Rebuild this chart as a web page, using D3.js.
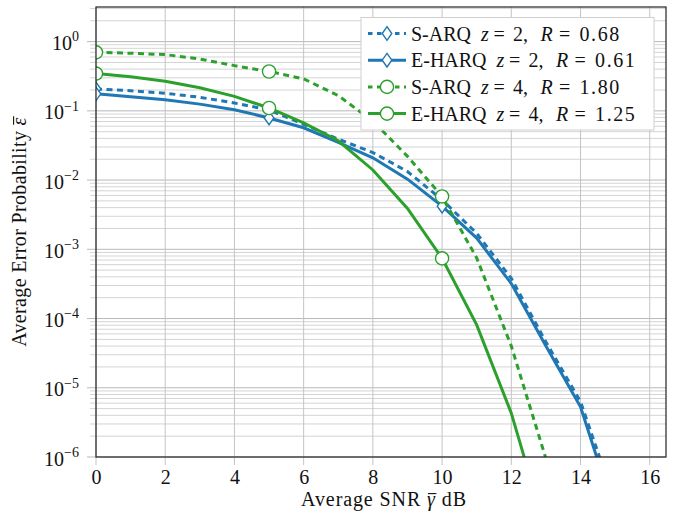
<!DOCTYPE html>
<html>
<head>
<meta charset="utf-8">
<script src="https://cdn.jsdelivr.net/npm/d3@7"></script>
<style>
  html, body { margin: 0; padding: 0; background: #fff; }
  svg { display: block; font-family: "Liberation Serif", "Times New Roman", serif; }
</style>
</head>
<body>
<svg id="chart" width="675" height="514"></svg>
<script>
// ---- data ----
const snr = [0, 1, 2, 3, 4, 5, 6, 7, 8, 9, 10, 11, 12, 13, 14, 15];
const sarqZ2  = [0.207, 0.195, 0.180, 0.157, 0.130, 0.103, 0.064, 0.039, 0.025, 0.0133, 0.0052, 0.0017, 3.8e-4, 4.6e-5, 6.3e-6, 2.2e-7];
const eharqZ2 = [0.176, 0.160, 0.145, 0.125, 0.104, 0.079, 0.057, 0.035, 0.021, 0.0103, 0.0042, 0.00145, 3.2e-4, 4.0e-5, 5.3e-6, 1.5e-7];
const sarqZ4  = [0.70, 0.68, 0.65, 0.56, 0.45, 0.37, 0.29, 0.166, 0.071, 0.022, 0.0058, 7.5e-4, 4.0e-5, 9.5e-7, 2.5e-8];
const eharqZ4 = [0.345, 0.31, 0.267, 0.215, 0.162, 0.110, 0.067, 0.037, 0.014, 0.0039, 7.4e-4, 8.1e-5, 4.3e-6, 8.5e-8];
const markerSnr = [0, 5, 10];
const xTicks = [0, 2, 4, 6, 8, 10, 12, 14, 16];
const yTickExps = [0, -1, -2, -3, -4, -5, -6];
const seriesNames = ["S-ARQ", "E-HARQ", "S-ARQ", "E-HARQ"];
const seriesZ = ["2", "2", "4", "4"];
const seriesR = ["0.68", "0.61", "1.80", "1.25"];
const xLabel = "Average SNR ";
const yLabel = "Average Error Probability ";

// ---- styling ----
const blue = "#1f77b4", green = "#2ca02c";
const series = [
  { vals: sarqZ2,  color: blue,  dashed: true,  marker: "diamond" },
  { vals: eharqZ2, color: blue,  dashed: false, marker: "diamond" },
  { vals: sarqZ4,  color: green, dashed: true,  marker: "circle" },
  { vals: eharqZ4, color: green, dashed: false, marker: "circle" }
];

const svg = d3.select("#chart");
const L = 96, R = 666, T = 7, B = 457;
const x = d3.scaleLinear().domain([0, 16.47]).range([L, R]);
const y = d3.scaleLog().domain([1e-6, Math.pow(10, 0.5)]).range([B, T]);
const FS = 20;

// grid
const grid = svg.append("g");
const minorVals = [];
for (let e = -6; e <= 0; e++) for (let k = 2; k <= 9; k++) { const v = k * Math.pow(10, e); if (v <= y.domain()[1]) minorVals.push(v); }
grid.selectAll("line.minor").data(minorVals).join("line")
  .attr("x1", L - 6).attr("x2", R).attr("y1", d => y(d)).attr("y2", d => y(d))
  .attr("stroke", "#d4d4d4").attr("stroke-width", 1);
grid.selectAll("line.major").data(yTickExps).join("line")
  .attr("x1", L - 9).attr("x2", R).attr("y1", d => y(Math.pow(10, d))).attr("y2", d => y(Math.pow(10, d)))
  .attr("stroke", "#b8b8b8").attr("stroke-width", 1);
grid.selectAll("line.vx").data(xTicks).join("line")
  .attr("x1", d => x(d)).attr("x2", d => x(d)).attr("y1", T).attr("y2", B + 8)
  .attr("stroke", "#c4c4c4").attr("stroke-width", 1);

// tick labels via d3 axes
const xAxis = d3.axisBottom(x).tickValues(xTicks).tickSize(0).tickPadding(0).tickFormat(d3.format("d"));
const gx = svg.append("g").attr("transform", `translate(0,${B})`).call(xAxis);
gx.select(".domain").remove();
gx.selectAll("text").attr("y", 27).attr("dy", 0)
  .attr("font-size", FS).attr("font-family", "Liberation Serif").attr("fill", "#111");

const yAxis = d3.axisLeft(y).tickValues(yTickExps.map(e => Math.pow(10, e))).tickSize(0).tickPadding(17).tickFormat(() => "");
const gy = svg.append("g").attr("transform", `translate(${L},0)`).call(yAxis);
gy.select(".domain").remove();
gy.selectAll(".tick").each(function (d) {
  const t = d3.select(this).select("text").text(null)
    .attr("font-size", FS).attr("font-family", "Liberation Serif").attr("fill", "#111").attr("dy", "0.4em");
  const e = Math.round(Math.log10(d));
  t.append("tspan").text("10");
  t.append("tspan").attr("font-size", 14).attr("dy", "-0.62em").text(e === 0 ? "0" : "\u2212" + Math.abs(e));
});

// curves
svg.append("clipPath").attr("id", "plotclip").append("rect")
  .attr("x", L).attr("y", T).attr("width", R - L).attr("height", B - T);
const plot = svg.append("g").attr("clip-path", "url(#plotclip)");
const line = d3.line().x(d => x(d[0])).y(d => y(d[1]));

function drawMarker(g, type, cx, cy, color) {
  if (type === "circle") {
    g.append("circle").attr("cx", cx).attr("cy", cy).attr("r", 6.6)
      .attr("fill", "#fff").attr("stroke", color).attr("stroke-width", 1.4);
  } else {
    g.append("path").attr("d", `M${cx},${cy - 6.8}L${cx + 4.8},${cy}L${cx},${cy + 6.8}L${cx - 4.8},${cy}Z`)
      .attr("fill", "#fff").attr("stroke", color).attr("stroke-width", 1.4);
  }
}

series.forEach(s => {
  const pts = s.vals.map((v, i) => [snr[i], v]);
  plot.append("path").datum(pts).attr("d", line).attr("fill", "none")
    .attr("stroke", s.color).attr("stroke-width", 3)
    .attr("stroke-dasharray", s.dashed ? "6,4.5" : null);
  markerSnr.forEach(m => {
    const i = snr.indexOf(m);
    drawMarker(plot, s.marker, x(m), y(s.vals[i]), s.color);
  });
});

// frame
svg.append("rect").attr("x", L).attr("y", T).attr("width", R - L).attr("height", B - T)
  .attr("fill", "none").attr("stroke", "#222").attr("stroke-width", 1.2);

// helper: macron over a char of a text element (baseline given in that element's space)
function macronOver(parent, textEl, charIndex, baseline) {
  const ext = textEl.node().getExtentOfChar(charIndex);
  const cx = ext.x + ext.width * 0.55;
  const yTop = baseline - 0.62 * FS;
  parent.append("line").attr("x1", cx - 4).attr("x2", cx + 4.5)
    .attr("y1", yTop).attr("y2", yTop).attr("stroke", "#111").attr("stroke-width", 1.1);
}

// legend
const lg = svg.append("g");
lg.append("rect").attr("x", 361).attr("y", 17.5).attr("width", 293).attr("height", 112.5)
  .attr("fill", "#fff").attr("stroke", "#cfcfcf").attr("stroke-width", 1);
series.forEach((s, i) => {
  const cy = 33.5 + i * 26.7;
  const by = cy + 7;
  lg.append("line").attr("x1", 368).attr("x2", 406).attr("y1", cy).attr("y2", cy)
    .attr("stroke", s.color).attr("stroke-width", 3)
    .attr("stroke-dasharray", s.dashed ? "4.5,4.5" : null);
  drawMarker(lg, s.marker, 387, cy, s.color);
  const txt = (xx, str, italic) => lg.append("text").attr("x", xx).attr("y", by)
    .attr("font-size", FS).attr("fill", "#111").attr("font-style", italic ? "italic" : null).text(str);
  const nm = txt(411, seriesNames[i]);
  const z0 = 411 + nm.node().getComputedTextLength() + 10;
  txt(z0, "z", true);
  txt(z0 + 12.5, "=");
  txt(z0 + 32, seriesZ[i] + ",");
  txt(z0 + 59.5, "R", true);
  txt(z0 + 78, "=");
  txt(z0 + 98.5, seriesR[i]).attr("letter-spacing", 1.6);
});

// axis titles
const xBase = 506;
const xt = svg.append("text").attr("x", (L + R) / 2 + 3).attr("y", xBase).attr("text-anchor", "middle")
  .attr("font-size", FS).attr("fill", "#111").attr("letter-spacing", 0.9);
xt.append("tspan").text(xLabel);
xt.append("tspan").attr("font-style", "italic").text("\u03B3");
xt.append("tspan").text(" dB");
macronOver(svg, xt, xLabel.length, xBase);

const yg = svg.append("g").attr("transform", `translate(26,${(T + B) / 2}) rotate(-90)`);
const yt = yg.append("text").attr("x", 0).attr("y", 0)
  .attr("text-anchor", "middle").attr("font-size", FS).attr("fill", "#111").attr("letter-spacing", 0.35);
yt.append("tspan").text(yLabel);
yt.append("tspan").attr("font-style", "italic").text("\u03B5");
macronOver(yg, yt, yLabel.length, 0);
</script>
</body>
</html>
